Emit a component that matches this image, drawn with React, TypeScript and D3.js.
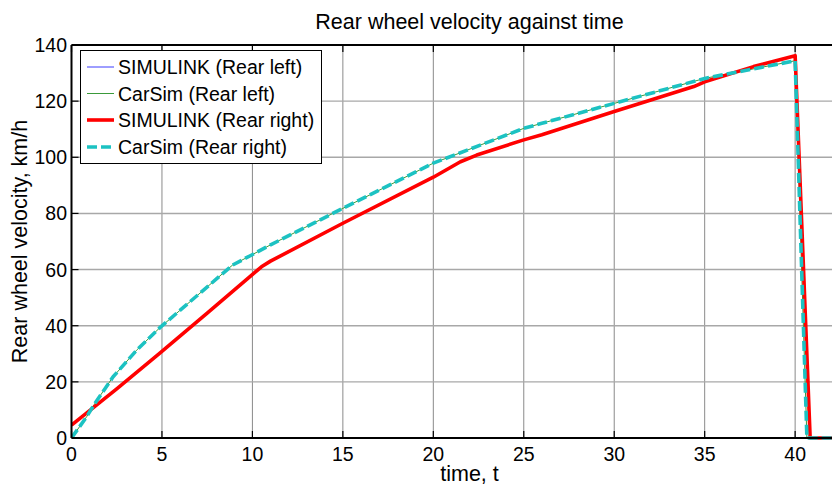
import React from "react";
import * as d3 from "d3";

const xTicks = [0, 5, 10, 15, 20, 25, 30, 35, 40];
const yTicks = [0, 20, 40, 60, 80, 100, 120, 140];

// SIMULINK (rear left / rear right) – nearly identical
const simT = [0, 2.5, 4.9, 7.5, 9.96, 10.5, 11, 15, 20, 21.5, 22.4, 25, 26, 30, 34.4, 35, 37.7, 40, 40.83, 44];
const simV = [4.6, 17.5, 30.3, 44.5, 58, 61, 63, 76.5, 92.9, 98.4, 100.8, 106.2, 108, 116.3, 125.2, 126.9, 132.3, 136.2, 0, 0];

// CarSim (rear left / rear right) – nearly identical
const carT = [0, 0.84, 1.3, 2.3, 3.6, 4.9, 7.3, 8.9, 9.96, 11, 15, 20, 25, 26, 30, 35, 37.7, 40, 40.65, 44];
const carV = [0, 7.6, 12.4, 21.8, 31.3, 39.4, 52.7, 61.6, 65.2, 68.8, 81.8, 97.9, 110.3, 112.1, 119.2, 128.1, 131.5, 134.4, 0, 0];

const legendLabels = [
  "SIMULINK (Rear left)",
  "CarSim (Rear left)",
  "SIMULINK (Rear right)",
  "CarSim (Rear right)",
];

const FONT = "'Liberation Sans', Arial, sans-serif";

export default function App() {
  const W = 832, H = 489;
  const x = d3.scaleLinear().domain([0, 44]).range([71.5, 867.5]);
  const y = d3.scaleLinear().domain([0, 140]).range([438, 45]);
  const line = d3
    .line<[number, number]>()
    .x((d) => x(d[0]))
    .y((d) => y(d[1]));
  const sim = simT.map((t, i) => [t, simV[i]] as [number, number]);
  const car = carT.map((t, i) => [t, carV[i]] as [number, number]);
  const x0 = x.range()[0], x1 = x.range()[1];
  const yb = y.range()[0], yt = y.range()[1];

  const series = [
    { data: sim, color: "#3c3cff", width: 1, dash: undefined },
    { data: car, color: "#3a9a3a", width: 1, dash: undefined },
    { data: sim, color: "#ff0000", width: 3.6, dash: undefined },
    { data: car, color: "#1cc2c2", width: 3.6, dash: "10,4" },
  ];

  const legendY = [67, 93.5, 120, 147];

  return (
    <svg
      width={W}
      height={H}
      style={{ position: "absolute", left: 0, top: 0, background: "#fff" }}
      fontFamily={FONT}
    >
      <rect x={0} y={0} width={W} height={H} fill="#fff" />
      <defs>
        <clipPath id="plotclip">
          <rect x={x0} y={yt - 5} width={x1 - x0} height={yb - yt + 10} />
        </clipPath>
      </defs>
      {/* grid */}
      {xTicks.filter((t) => t > 0).map((t) => (
        <line key={"gx" + t} x1={x(t)} x2={x(t)} y1={yt} y2={yb} stroke="#8a8a8a" strokeWidth={1} />
      ))}
      {yTicks.filter((t) => t > 0 && t < 140).map((t) => (
        <line key={"gy" + t} x1={x0} x2={x1} y1={y(t)} y2={y(t)} stroke="#a8a8a8" strokeWidth={1.4} />
      ))}
      {/* series */}
      <g clipPath="url(#plotclip)">
        {series.map((s, i) => (
          <path
            key={i}
            d={line(s.data) || ""}
            fill="none"
            stroke={s.color}
            strokeWidth={s.width}
            strokeDasharray={s.dash}
            strokeLinejoin="round"
          />
        ))}
      </g>
      {/* axes box */}
      <line x1={x0} x2={x1} y1={yt} y2={yt} stroke="#000" strokeWidth={2} />
      <line x1={x0} x2={x1} y1={yb} y2={yb} stroke="#000" strokeWidth={2} />
      <line x1={x0} x2={x0} y1={yt} y2={yb} stroke="#000" strokeWidth={2} />
      {/* ticks */}
      {xTicks.map((t) => (
        <g key={"tx" + t}>
          <line x1={x(t)} x2={x(t)} y1={yb} y2={yb - 7} stroke="#000" strokeWidth={1.2} />
          <line x1={x(t)} x2={x(t)} y1={yt} y2={yt + 7} stroke="#000" strokeWidth={1.2} />
          <text x={x(t)} y={461} textAnchor="middle" fontSize={19.5} fill="#000">
            {t}
          </text>
        </g>
      ))}
      {yTicks.map((t) => (
        <g key={"ty" + t}>
          <line x1={x0} x2={x0 + 7} y1={y(t)} y2={y(t)} stroke="#000" strokeWidth={1.2} />
          <text x={67} y={y(t) + 7} textAnchor="end" fontSize={19.5} fill="#000">
            {t}
          </text>
        </g>
      ))}
      {/* title & labels */}
      <text x={(x0 + x1) / 2} y={29} textAnchor="middle" fontSize={21.5} fill="#000">
        Rear wheel velocity against time
      </text>
      <text x={(x0 + x1) / 2} y={481} textAnchor="middle" fontSize={21.5} fill="#000">
        time, t
      </text>
      <text
        transform={`translate(27,${(yt + yb) / 2}) rotate(-90)`}
        textAnchor="middle"
        fontSize={21.5}
        fill="#000"
      >
        Rear wheel velocity, km/h
      </text>
      {/* legend */}
      <rect x={80.5} y={50.5} width={241} height={113} fill="#fff" stroke="#000" strokeWidth={1} />
      {legendLabels.map((lab, i) => (
        <g key={lab}>
          <line
            x1={87}
            x2={114}
            y1={legendY[i]}
            y2={legendY[i]}
            stroke={series[i].color}
            strokeWidth={series[i].width}
            strokeDasharray={series[i].dash}
          />
          <text x={118} y={legendY[i] + 7} fontSize={19.5} fill="#000">
            {lab}
          </text>
        </g>
      ))}
    </svg>
  );
}
